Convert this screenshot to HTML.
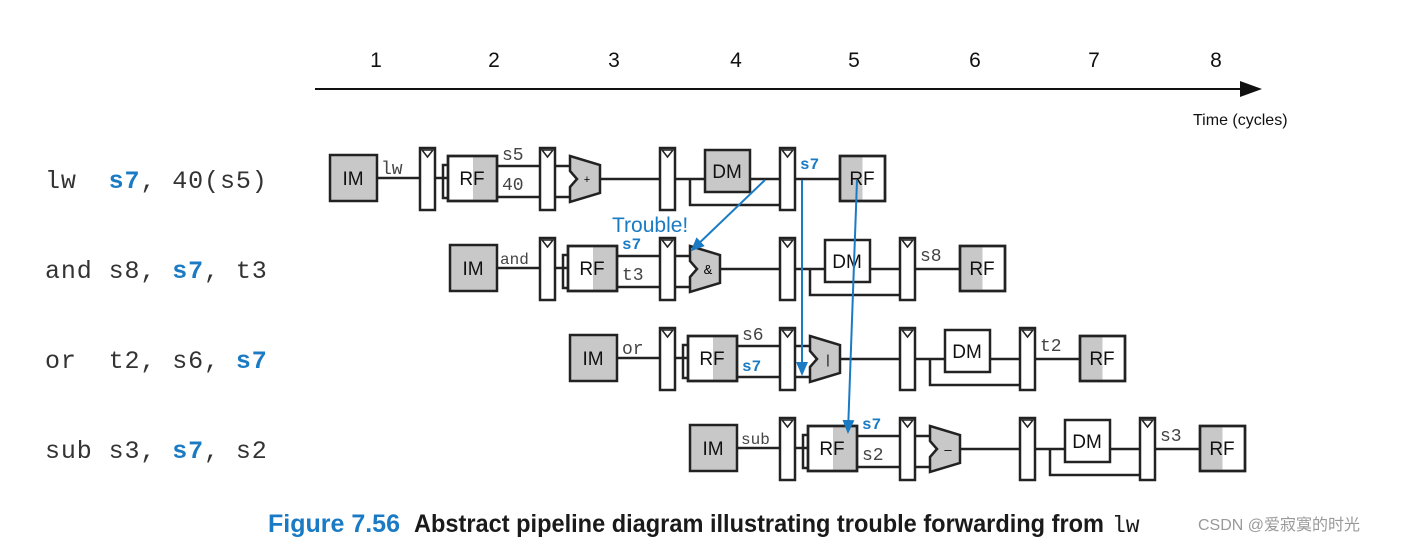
<!DOCTYPE html>
<html><head><meta charset="utf-8"><style>
html,body{margin:0;padding:0;background:#fff;}
svg{display:block;}
.m{font-family:"Liberation Mono",monospace;}
.s{font-family:"Liberation Sans",sans-serif;}
.pre{white-space:pre;}
</style></head><body>
<svg width="1405" height="544" viewBox="0 0 1405 544" xmlns="http://www.w3.org/2000/svg">
<defs>
<marker id="bh" markerWidth="14" markerHeight="14" refX="12" refY="7" orient="auto" markerUnits="userSpaceOnUse"><path d="M0,1 L14,7 L0,13 z" fill="#1a7bc4"/></marker>
<g id="reg"><rect x="0" y="0" width="15" height="62" fill="#fff" stroke="#222" stroke-width="2.5"/><path d="M2,2 L13,2 L7.5,9 z" fill="#fff" stroke="#222" stroke-width="1.5"/></g>
<g id="base" stroke="#222" stroke-width="2.5" fill="none">
<rect x="330" y="155" width="47" height="46" fill="#c8c8c8"/>
<line x1="377" y1="178" x2="420" y2="178"/>
<use href="#reg" x="420" y="148"/>
<line x1="435" y1="178" x2="448" y2="178"/>
<path d="M448,165 H443 V198 H448"/>
<rect x="448" y="156" width="49" height="45" fill="#fff"/>
<rect x="473" y="157.5" width="22.5" height="42" fill="#c8c8c8" stroke="none"/>
<rect x="448" y="156" width="49" height="45"/>
<line x1="497" y1="166" x2="540" y2="166"/><line x1="497" y1="197" x2="540" y2="197"/>
<use href="#reg" x="540" y="148"/>
<line x1="555" y1="166" x2="571" y2="166"/><line x1="555" y1="197" x2="571" y2="197"/>
<path d="M570,156 L600,165 L600,193 L570,202 L570,187 L577,179 L570,171 z" fill="#c8c8c8"/>
<line x1="600" y1="179" x2="660" y2="179"/>
<use href="#reg" x="660" y="148"/>
<line x1="675" y1="179" x2="705" y2="179"/>
<path d="M690,179 V205 H780"/>
<line x1="750" y1="179" x2="780" y2="179"/>
<use href="#reg" x="780" y="148"/>
<line x1="795" y1="179" x2="840" y2="179"/>
<rect x="840" y="156" width="45" height="45" fill="#fff"/>
<rect x="841.5" y="157.5" width="21" height="42" fill="#c8c8c8" stroke="none"/>
<rect x="840" y="156" width="45" height="45"/>
</g>
<g id="lbl" class="s" font-size="19" fill="#111" text-anchor="middle">
<text x="353" y="185">IM</text><text x="472" y="185">RF</text><text x="727" y="178">DM</text><text x="862" y="185">RF</text>
</g>
</defs>
<!-- axis -->
<g class="s" font-size="21" text-anchor="middle" fill="#111">
<text x="376" y="67">1</text><text x="494" y="67">2</text><text x="614" y="67">3</text><text x="736" y="67">4</text><text x="854" y="67">5</text><text x="975" y="67">6</text><text x="1094" y="67">7</text><text x="1216" y="67">8</text>
</g>
<line x1="315" y1="89" x2="1246" y2="89" stroke="#111" stroke-width="2"/>
<path d="M1240,81 L1262,89 L1240,97 z" fill="#111"/>
<text x="1193" y="125" class="s" font-size="16" fill="#111">Time (cycles)</text>
<!-- instructions -->
<g class="m pre" font-size="25" fill="#333" letter-spacing="0.9">
<text x="45" y="188" xml:space="preserve">lw  <tspan fill="#1a7bc4" font-weight="bold">s7</tspan>, 40(s5)</text>
<text x="45" y="278" xml:space="preserve">and s8, <tspan fill="#1a7bc4" font-weight="bold">s7</tspan>, t3</text>
<text x="45" y="368" xml:space="preserve">or  t2, s6, <tspan fill="#1a7bc4" font-weight="bold">s7</tspan></text>
<text x="45" y="458" xml:space="preserve">sub s3, <tspan fill="#1a7bc4" font-weight="bold">s7</tspan>, s2</text>
</g>

<!-- row1 -->
<use href="#base"/>
<rect x="705" y="150" width="45" height="42" fill="#c8c8c8" stroke="#222" stroke-width="2.5"/>
<use href="#lbl"/>
<text x="587" y="183" class="s" font-size="11" text-anchor="middle">+</text>
<g class="m" font-size="18" fill="#444"><text x="381" y="174">lw</text><text x="502" y="160">s5</text><text x="502" y="190">40</text></g>
<text x="800" y="169" class="m" font-size="16" font-weight="bold" fill="#1a7bc4">s7</text>

<!-- row2 -->
<g transform="translate(120,90)">
<use href="#base"/>
<rect x="705" y="150" width="45" height="42" fill="#fff" stroke="#222" stroke-width="2.5"/>
<use href="#lbl"/>
<text x="588" y="184" class="s" font-size="13" text-anchor="middle">&amp;</text>
<g class="m" font-size="18" fill="#444"><text x="380" y="174" font-size="16">and</text><text x="502" y="190">t3</text><text x="800" y="171">s8</text></g>
<text x="502" y="159" class="m" font-size="16" font-weight="bold" fill="#1a7bc4">s7</text>
</g>

<!-- row3 -->
<g transform="translate(240,180)">
<use href="#base"/>
<rect x="705" y="150" width="45" height="42" fill="#fff" stroke="#222" stroke-width="2.5"/>
<use href="#lbl"/>
<text x="588" y="184" class="s" font-size="13" text-anchor="middle">|</text>
<g class="m" font-size="18" fill="#444"><text x="382" y="174">or</text><text x="502" y="160">s6</text><text x="800" y="171">t2</text></g>
<text x="502" y="191" class="m" font-size="16" font-weight="bold" fill="#1a7bc4">s7</text>
</g>

<!-- row4 -->
<g transform="translate(360,270)">
<use href="#base"/>
<rect x="705" y="150" width="45" height="42" fill="#fff" stroke="#222" stroke-width="2.5"/>
<use href="#lbl"/>
<text x="588" y="184" class="s" font-size="13" text-anchor="middle">–</text>
<g class="m" font-size="18" fill="#444"><text x="381" y="174" font-size="16">sub</text><text x="502" y="190">s2</text><text x="800" y="171">s3</text></g>
<text x="502" y="159" class="m" font-size="16" font-weight="bold" fill="#1a7bc4">s7</text>
</g>

<!-- forwarding arrows -->
<g stroke="#1a7bc4" stroke-width="2" fill="none">
<line x1="765" y1="180" x2="692" y2="250" marker-end="url(#bh)"/>
<line x1="802" y1="180" x2="802" y2="374" marker-end="url(#bh)"/>
<line x1="857" y1="180" x2="848" y2="432" marker-end="url(#bh)"/>
</g>
<text x="612" y="232" class="s" font-size="21" fill="#1a7bc4">Trouble!</text>

<!-- caption -->
<text x="268" y="532" class="s" font-size="25" font-weight="bold" fill="#1a7bc4" textLength="132" lengthAdjust="spacingAndGlyphs">Figure 7.56</text>
<text x="414" y="532" class="s" font-size="25" font-weight="bold" fill="#1a1a1a" textLength="690" lengthAdjust="spacingAndGlyphs">Abstract pipeline diagram illustrating trouble forwarding from</text>
<text x="1112" y="532" class="m" font-size="23" fill="#1a1a1a">lw</text>
<text x="1198" y="530" font-family="Liberation Sans, Noto Sans CJK SC, sans-serif" font-size="16" fill="#999">CSDN @爱寂寞的时光</text>
</svg>
</body></html>
